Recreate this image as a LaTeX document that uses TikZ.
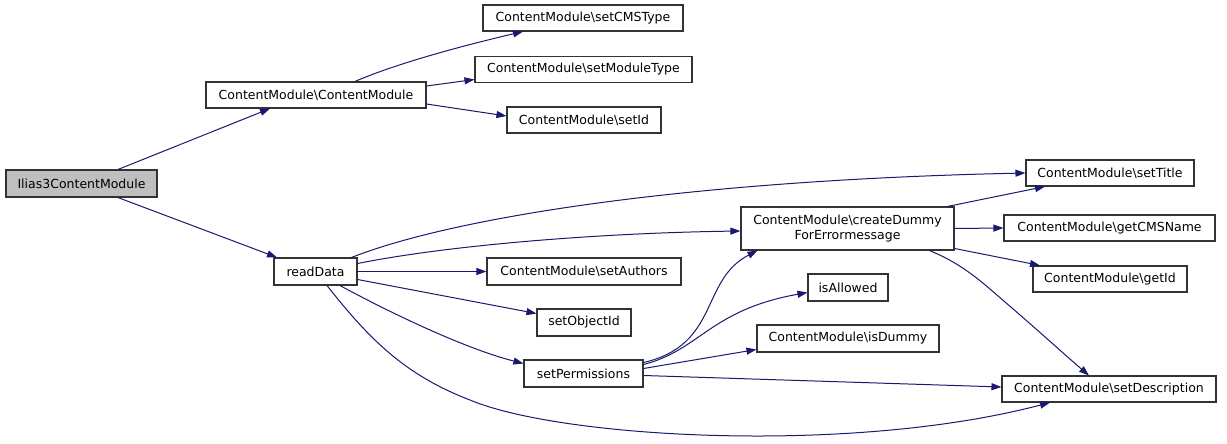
\documentclass[tikz,border=0pt]{standalone}
\usepackage{fontspec}
\setmainfont{DejaVu Sans}
\usetikzlibrary{arrows.meta,calc}
\definecolor{edgecol}{HTML}{191970}
\definecolor{boxgray}{HTML}{BFBFBF}
\begin{document}
\begin{tikzpicture}[x=1pt,y=-1pt,
  box/.style={draw=black!80, line width=1.1pt, fill=white, inner sep=0pt,
    minimum height=26pt, font=\fontsize{12.5}{15.5}\selectfont, align=center},
  edge/.style={draw=edgecol, line width=1pt, -{Triangle[length=10pt,width=7pt]}}]
\useasboundingbox[fill=white] (0,0) rectangle (1227,444);

\node[box, fill=boxgray, minimum width=151pt, minimum height=27pt] (ilias) at (81.5,183.5) {Ilias3ContentModule};
\node[box, minimum width=220pt] (cm) at (316,95) {ContentModule\textbackslash ContentModule};
\node[box, minimum width=200pt] (cms) at (583,18) {ContentModule\textbackslash setCMSType};
\node[box, minimum width=217pt] (mtype) at (583.5,69.5) {ContentModule\textbackslash setModuleType};
\node[box, minimum width=154pt] (setid) at (584,120) {ContentModule\textbackslash setId};
\node[box, minimum width=83pt, minimum height=27pt] (readdata) at (315.5,271.5) {readData};
\node[box, minimum width=168pt] (settitle) at (1110,173) {ContentModule\textbackslash setTitle};
\node[box, minimum width=213pt, minimum height=43pt] (dummy) at (847.5,228.5) {ContentModule\textbackslash createDummy\\ForErrormessage};
\node[box, minimum width=211pt] (getcms) at (1109.5,228) {ContentModule\textbackslash getCMSName};
\node[box, minimum width=154pt] (getid) at (1110,279) {ContentModule\textbackslash getId};
\node[box, minimum width=194pt, minimum height=27pt] (authors) at (584,271.5) {ContentModule\textbackslash setAuthors};
\node[box, minimum width=94pt, minimum height=27pt] (objid) at (584,322.5) {setObjectId};
\node[box, minimum width=80pt, minimum height=27pt] (isallowed) at (848,287.5) {isAllowed};
\node[box, minimum width=182pt, minimum height=27pt] (isdummy) at (848,338.5) {ContentModule\textbackslash isDummy};
\node[box, minimum width=119pt, minimum height=27pt] (perms) at (583.5,373.5) {setPermissions};
\node[box, minimum width=214pt] (setdesc) at (1109,389) {ContentModule\textbackslash setDescription};

% Ilias3ContentModule
\draw[edge] ($(ilias.north)+(36.5,0)$) -- ($(cm.south)+(-46,0)$);
\draw[edge] ($(ilias.south)+(36.5,0)$) -- ($(readdata.north)+(-38.5,0)$);
% ContentModule
\draw[edge] ($(cm.north)+(39,0)$) .. controls (400,62) and (470,44) .. ($(cms.south)+(-60,0)$);
\draw[edge] ($(cm.east)+(0,-9)$) -- ($(mtype.west)+(0,10)$);
\draw[edge] ($(cm.east)+(0,9)$) -- ($(setid.west)+(0,-4)$);
% readData
\draw[edge] ($(readdata.north)+(36,0)$) .. controls (460,215) and (700,180) .. (settitle.west);
\draw[edge] ($(readdata.east)+(0,-8)$) .. controls (450,245) and (600,233) .. ($(dummy.west)+(0,2.5)$);
\draw[edge] (readdata.east) -- (authors.west);
\draw[edge] ($(readdata.east)+(0,8)$) -- ($(objid.west)+(0,-9)$);
\draw[edge] ($(readdata.south)+(24.5,0)$) .. controls (400,318) and (470,350) .. ($(perms.west)+(0,-10)$);
\draw[edge] ($(readdata.south)+(11.5,0)$) .. controls (370,340) and (405,375) .. (470,400)
   .. controls (560,438) and (850,455) .. ($(setdesc.south)+(-59,0)$);
% setPermissions
\draw[edge] ($(perms.east)+(0,-11)$) .. controls (720,345) and (700,280) .. ($(dummy.south)+(-90,0)$);
\draw[edge] ($(perms.east)+(0,-9)$) .. controls (700,350) and (710,310) .. ($(isallowed.west)+(0,5)$);
\draw[edge] ($(perms.east)+(0,-5)$) -- ($(isdummy.west)+(0,11)$);
\draw[edge] ($(perms.east)+(0,2)$) -- ($(setdesc.west)+(0,-2)$);
% createDummyForErrormessage
\draw[edge] ($(dummy.north)+(100,0)$) -- ($(settitle.south)+(-65,0)$);
\draw[edge] (dummy.east) -- (getcms.west);
\draw[edge] ($(dummy.east)+(0,20)$) -- ($(getid.north)+(-70,0)$);
\draw[edge] ($(dummy.south)+(82,0)$) .. controls (965,265) and (985,285) .. (1005,302)
   .. controls (1040,332) and (1065,355) .. ($(setdesc.north)+(-20,0)$);
\end{tikzpicture}
\end{document}
